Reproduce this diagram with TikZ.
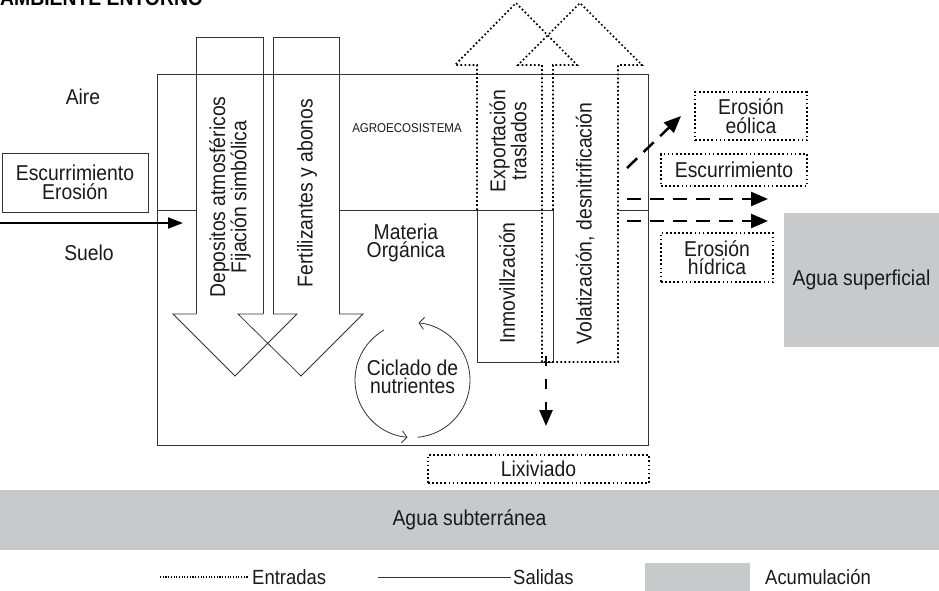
\documentclass[tikz,border=0pt]{standalone}
\usepackage{fontspec}
\setmainfont{Liberation Sans}[FakeStretch=0.9]
\usetikzlibrary{arrows.meta,calc}
\definecolor{accgray}{HTML}{C8C9CB}
\definecolor{linegray}{HTML}{333333}
\definecolor{txt}{HTML}{1A1A1A}
\begin{document}
\begin{tikzpicture}[x=1pt,y=-1pt,
  lbl/.style={font=\fontsize{21.5}{18.5}\selectfont, align=center, inner sep=0pt, text=txt},
  small/.style={font=\fontsize{12.8}{13}\selectfont, inner sep=0pt, text=txt},
  legend/.style={font=\fontsize{20.5}{20}\selectfont, inner sep=0pt, text=txt},
  outl/.style={draw=linegray, line width=0.75pt},
  dots/.style={draw=black, line width=1.7pt, dash pattern=on 1.7pt off 2.4pt},
  finedots/.style={draw=black, line width=1.1pt, dash pattern=on 1.1pt off 1.6pt},
  dotbox/.style={lbl, dots, inner sep=0pt},
  solidbox/.style={lbl, outl},
  accbox/.style={lbl, fill=accgray, draw=none},
  dsh/.style={draw=black, line width=2.5pt, dash pattern=on 14pt off 9pt,
              -{Triangle[length=17pt,width=14pt]}},
  vdsh/.style={draw=black, line width=2.5pt, dash pattern=on 10pt off 13pt,
              -{Triangle[length=16pt,width=13pt]}},
  inarrow/.style={draw=black, line width=2pt, -{Triangle[length=15pt,width=11pt]}},
  cyc/.style={draw=linegray, line width=0.8pt, -{Straight Barb[length=5pt,width=12pt,line width=0.8pt]}},
]
\useasboundingbox (0,0) rectangle (939,591);
\clip (0,0) rectangle (939,591);

% title
\node[anchor=base west, inner sep=0pt, font=\fontsize{21.5}{20}\selectfont\bfseries] (title) at (0,6) {AMBIENTE ENTORNO};

% main agroecosystem box
\draw[outl] (157,74) rectangle (648,445);
\coordinate (sueloL) at (157,210);
\coordinate (sueloA) at (196,210);
\coordinate (sueloB) at (339,210);
\coordinate (sueloC) at (477,210);
\coordinate (sueloD) at (619,210);
\coordinate (sueloR) at (648,210);
\draw[outl] (sueloL) -- (sueloA);
\draw[outl] (sueloB) -- (sueloC);
\draw[outl] (sueloD) -- (sueloR);

% labels
\node[lbl] (aire) at (83,97) {Aire};
\node[lbl] (suelo) at (89,253) {Suelo};
\node[small] (agro) at (407,128) {AGROECOSISTEMA};
\node[lbl] (mo) at (406,243) {Materia\\Orgánica};

% left input box and arrow
\node[solidbox, minimum width=146pt, minimum height=59pt] (escL) at (75,182.5) {Escurrimiento\\Erosión};
\coordinate (inS) at (0,223);
\coordinate (inE) at (183,223);
\draw[inarrow] (inS) -- (inE);

% big solid input arrows
\draw[outl] (196,314) -- (196,37) -- (263,37) -- (263,314);
\draw[outl] (196,314) -- (173,314) -- (235,376) -- (297,314) -- (273,314);
\draw[outl] (273,314) -- (273,37) -- (339,37) -- (339,314);
\draw[outl] (263,314) -- (238,314) -- (301,376) -- (363,314) -- (339,314);
\node[lbl, rotate=90] (dep) at (230,197) {Depositos atmosféricos\\Fijación simbólica};
\node[lbl, rotate=90] (fert) at (307,193) {Fertilizantes y abonos};

% Inmovilizacion box
\draw[outl] (477,210) rectangle (553,362);
\node[lbl, rotate=90] (inmov) at (507,283) {Inmovillzación};

% dotted output arrows
\draw[dots] (477,210) -- (477,65) -- (455,65) -- (516,3) -- (577,65) -- (553,65) -- (553,210);
\draw[dots] (542,362) -- (542,65) -- (518,65) -- (580,3) -- (642,65) -- (618,65) -- (618,362) -- (542,362);
\node[lbl, rotate=90] (exp) at (508,141) {Exportación\\traslados};
\node[lbl, rotate=90] (vol) at (585,223.5) {Volatización, desnitrificación};

% nutrient cycling
\coordinate (cc) at (412.5,380);
\node[lbl] (cic) at (412.5,377) {Ciclado de\\nutrientes};
\draw[cyc] ($(cc)+(85:57.5)$) arc[start angle=85, end angle=-84, radius=57.5];
\draw[cyc] ($(cc)+(-120:57.5)$) arc[start angle=-120, end angle=-265, radius=57.5];

% output boxes
\node[dotbox, minimum width=112pt, minimum height=48pt] (eol) at (751,116) {Erosión\\eólica};
\node[dotbox, minimum width=146pt, minimum height=32pt] (escR) at (734,170) {Escurrimiento};
\node[dotbox, minimum width=112pt, minimum height=49pt] (hid) at (717,257.5) {Erosión\\hídrica};
\node[accbox, minimum width=155pt, minimum height=134pt] (asup) at (861.5,280) {Agua superficial};
\node[dotbox, minimum width=221pt, minimum height=28pt] (lix) at (538.5,469) {Lixiviado};
\node[accbox, minimum width=939pt, minimum height=60pt] (asub) at (469.5,520) {Agua subterránea};

% dashed output arrows
\coordinate (d1s) at (627,168); \coordinate (d1e) at (681,116);
\coordinate (d2s) at (627,199); \coordinate (d2e) at (768,199);
\coordinate (d3s) at (627,221); \coordinate (d3e) at (768,221);
\coordinate (d4s) at (546,356); \coordinate (d4e) at (546,426);
\draw[dsh] (d1s) -- (d1e);
\draw[dsh] (d2s) -- (d2e);
\draw[dsh] (d3s) -- (d3e);
\draw[vdsh] (d4s) -- (d4e);

% legend
\coordinate (l1a) at (160,577); \coordinate (l1b) at (248,577);
\draw[finedots] (l1a) -- (l1b);
\node[legend, anchor=west] (lent) at (252,577) {Entradas};
\coordinate (l2a) at (378,577); \coordinate (l2b) at (511,577);
\draw[outl] (l2a) -- (l2b);
\node[legend, anchor=west] (lsal) at (513,577) {Salidas};
\node[fill=accgray, minimum width=105pt, minimum height=29pt, inner sep=0pt] (lacc) at (697.5,577.5) {};
\node[legend, anchor=west] (lacu) at (765,577) {Acumulación};
\end{tikzpicture}
\end{document}
